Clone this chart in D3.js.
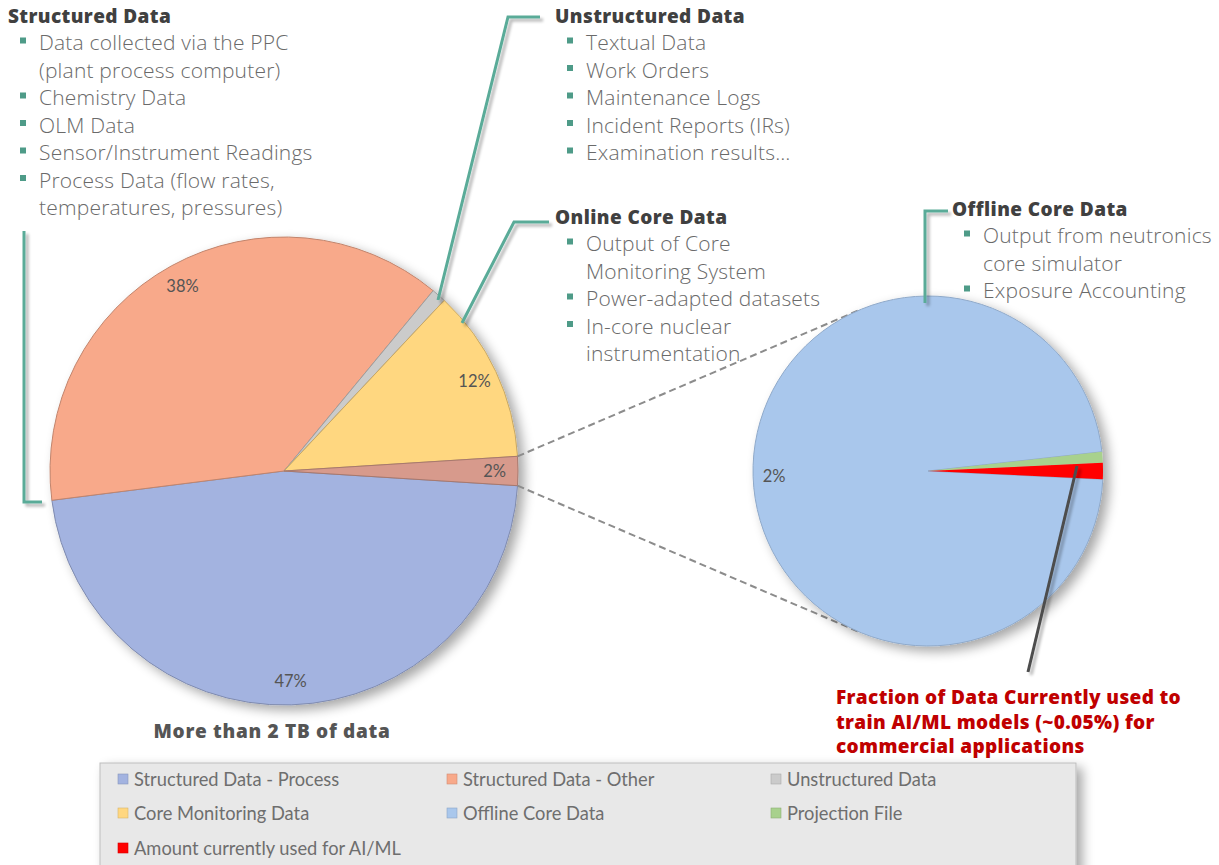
<!DOCTYPE html>
<html><head><meta charset="utf-8">
<script src="https://cdn.jsdelivr.net/npm/d3@7"></script>
<style>body{margin:0;background:#fff} svg{display:block}</style>
</head><body>
<svg id="chart" width="1219" height="865"></svg>
<script>
// ---- data ----
const mainCategories = ["Structured Data - Process", "Structured Data - Other", "Unstructured Data", "Core Monitoring Data"];
const mainValues = [47, 38, 1, 12];
const secondCategories = ["Offline Core Data", "Projection File", "Amount currently used for AI/ML"];
const secondValues = [1.95, 0.02, 0.03];
const mainColors = ["#a3b3e0", "#f8a98a", "#cbcbcb", "#ffd780"];
const otherColor = "#d79a8c";
const secondColors = ["#a9c7ec", "#a8d18d", "#ff0000"];

const calloutStructured = ["Data collected via the PPC", "(plant process computer)", "Chemistry Data", "OLM Data", "Sensor/Instrument Readings", "Process Data (flow rates,", "temperatures, pressures)"];
const calloutStructuredBullets = [1, 0, 1, 1, 1, 1, 0];
const calloutUnstructured = ["Textual Data", "Work Orders", "Maintenance Logs", "Incident Reports (IRs)", "Examination results\u2026"];
const calloutUnstructuredBullets = [1, 1, 1, 1, 1];
const calloutOnline = ["Output of Core", "Monitoring System", "Power-adapted datasets", "In-core nuclear", "instrumentation"];
const calloutOnlineBullets = [1, 0, 1, 1, 0];
const calloutOffline = ["Output from neutronics", "core simulator", "Exposure Accounting"];
const calloutOfflineBullets = [1, 0, 1];
const fractionNote = ["Fraction of Data Currently used to", "train AI/ML models (~0.05%) for", "commercial applications"];
const totalNote = "More than 2 TB of data";

// ---- setup ----
const svg = d3.select("#chart");
const defs = svg.append("defs");
const sh = defs.append("filter").attr("id", "shadow").attr("x", "-20%").attr("y", "-20%").attr("width", "150%").attr("height", "150%");
sh.append("feGaussianBlur").attr("in", "SourceAlpha").attr("stdDeviation", 6).attr("result", "b");
sh.append("feOffset").attr("in", "b").attr("dx", 6).attr("dy", 5).attr("result", "o");
sh.append("feComponentTransfer").attr("in", "o").attr("result", "o2").append("feFuncA").attr("type", "linear").attr("slope", 0.35);
const m1 = sh.append("feMerge"); m1.append("feMergeNode").attr("in", "o2"); m1.append("feMergeNode").attr("in", "SourceGraphic");

const sh2 = defs.append("filter").attr("id", "lineShadow").attr("x", "-50%").attr("y", "-10%").attr("width", "200%").attr("height", "130%");
sh2.append("feGaussianBlur").attr("in", "SourceAlpha").attr("stdDeviation", 1.5).attr("result", "b");
sh2.append("feOffset").attr("in", "b").attr("dx", 3).attr("dy", 3).attr("result", "o");
sh2.append("feComponentTransfer").attr("in", "o").attr("result", "o2").append("feFuncA").attr("type", "linear").attr("slope", 0.3);
const m2 = sh2.append("feMerge"); m2.append("feMergeNode").attr("in", "o2"); m2.append("feMergeNode").attr("in", "SourceGraphic");

const total = d3.sum(mainValues) + d3.sum(secondValues);
const otherValue = d3.sum(secondValues);

// ---- main pie ----
const c1 = {x: 284, y: 471}, R1 = 234;
const mainData = mainValues.map((v, i) => ({name: mainCategories[i], value: v, color: mainColors[i]}))
  .concat([{name: "Other", value: otherValue, color: otherColor}]);
const start1 = Math.PI / 2 + (otherValue / total) * Math.PI;
const pie1 = d3.pie().sort(null).value(d => d.value).startAngle(start1).endAngle(start1 + 2 * Math.PI);
const arcs1 = pie1(mainData);
const arc1 = d3.arc().innerRadius(0).outerRadius(R1);
const labelArc1 = d3.arc().innerRadius(R1 * 0.9).outerRadius(R1 * 0.9);
const g1 = svg.append("g").attr("transform", `translate(${c1.x},${c1.y})`);
g1.append("g").attr("filter", "url(#shadow)").selectAll("path").data(arcs1).join("path")
  .attr("d", arc1).attr("fill", d => d.data.color)
  .attr("stroke", d => d3.color(d.data.color).darker(0.7)).attr("stroke-width", 1);
g1.selectAll("text.lbl").data(arcs1.filter(d => d.data.value >= 1.5)).join("text")
  .attr("class", "lbl")
  .attr("transform", d => { const [x, y] = labelArc1.centroid(d); return `translate(${x},${y})`; })
  .attr("text-anchor", "middle").attr("dominant-baseline", "central")
  .attr("font-family", "Lato, sans-serif").attr("font-size", 16.5).attr("fill", "#555")
  .text(d => Math.round(d.data.value / total * 100) + "%");

// ---- second pie ----
const c2 = {x: 928, y: 471}, R2 = 175;
const secondData = secondValues.map((v, i) => ({name: secondCategories[i], value: v, color: secondColors[i]}));
const lastVal = secondValues[secondValues.length - 1];
const start2 = Math.PI / 2 + (lastVal / otherValue) * Math.PI;
const pie2 = d3.pie().sort(null).value(d => d.value).startAngle(start2).endAngle(start2 + 2 * Math.PI);
const arcs2 = pie2(secondData);
const arc2 = d3.arc().innerRadius(0).outerRadius(R2);
const labelArc2 = d3.arc().innerRadius(R2 * 0.88).outerRadius(R2 * 0.88);

// connector lines (tangents from "other" slice edge points to the second pie)
const otherArc = arcs1[arcs1.length - 1];
const pt = (c, r, a) => [c.x + r * Math.sin(a), c.y - r * Math.cos(a)];
const pA = pt(c1, R1, otherArc.startAngle), pB = pt(c1, R1, otherArc.endAngle);
function tangent(p, upper) {
  const dx = p[0] - c2.x, dy = p[1] - c2.y, d = Math.hypot(dx, dy);
  const base = Math.atan2(dy, dx), off = Math.acos(R2 / d);
  const a = upper ? base + off : base - off;
  return [c2.x + R2 * Math.cos(a), c2.y + R2 * Math.sin(a)];
}
const topP = pA[1] < pB[1] ? pA : pB, botP = pA[1] < pB[1] ? pB : pA;
const conn = [[topP, tangent(topP, true)], [botP, tangent(botP, false)]];
svg.append("g").selectAll("line").data(conn).join("line")
  .attr("x1", d => d[0][0]).attr("y1", d => d[0][1]).attr("x2", d => d[1][0]).attr("y2", d => d[1][1])
  .attr("stroke", "#8c8c8c").attr("stroke-width", 2).attr("stroke-dasharray", "7,4");

const g2 = svg.append("g").attr("transform", `translate(${c2.x},${c2.y})`);
g2.append("g").attr("filter", "url(#shadow)").selectAll("path").data(arcs2).join("path")
  .attr("d", arc2).attr("fill", d => d.data.color)
  .attr("stroke", (d, i) => i === 0 ? "#8fa9c9" : "none").attr("stroke-width", 1);
g2.selectAll("text.lbl").data(arcs2.filter(d => d.data.value >= 1.5)).join("text")
  .attr("class", "lbl")
  .attr("transform", d => { const [x, y] = labelArc2.centroid(d); return `translate(${x},${y})`; })
  .attr("text-anchor", "middle").attr("dominant-baseline", "central")
  .attr("font-family", "Lato, sans-serif").attr("font-size", 16.5).attr("fill", "#555")
  .text(d => Math.round(d.data.value / total * 100) + "%");

// ---- callout lines ----
const teal = "#5aab98";
const calloutLines = [
  [[24, 231], [24, 502], [42, 502]],
  [[438, 300], [508, 17], [540, 17]],
  [[462, 323], [514, 222], [549, 222]],
  [[925, 303], [925, 211], [948, 211]]
];
svg.append("g").attr("filter", "url(#lineShadow)").selectAll("path").data(calloutLines).join("path")
  .attr("d", d3.line()).attr("fill", "none").attr("stroke", teal).attr("stroke-width", 3);
svg.append("path").attr("d", d3.line()([[1077, 466], [1028, 672]]))
  .attr("stroke", "#4d4d4d").attr("stroke-width", 3).attr("filter", "url(#lineShadow)");

// ---- callout texts ----
const headFont = "'Open Sans', sans-serif";
function block(x, y, title, lines, bullets) {
  const g = svg.append("g");
  g.append("text").attr("x", x).attr("y", y).attr("dominant-baseline", "central")
    .attr("font-family", headFont).attr("font-weight", 800).attr("font-size", 19)
    .attr("letter-spacing", 0.4)
    .attr("fill", "#404040").text(title);
  lines.forEach((t, i) => {
    const ly = y + 26 + i * 27.5;
    if (bullets[i]) g.append("rect").attr("x", x + 12).attr("y", ly - 4.5).attr("width", 6).attr("height", 6).attr("fill", "#4e9b88");
    g.append("text").attr("x", x + 31).attr("y", ly).attr("dominant-baseline", "central")
      .attr("font-family", headFont).attr("font-weight", 300).attr("font-size", 21)
      .attr("letter-spacing", 0.2)
      .attr("fill", "#6a6a6a").text(t);
  });
}
block(8, 16, "Structured Data", calloutStructured, calloutStructuredBullets);
block(555, 16, "Unstructured Data", calloutUnstructured, calloutUnstructuredBullets);
block(555, 217, "Online Core Data", calloutOnline, calloutOnlineBullets);
block(952, 209, "Offline Core Data", calloutOffline, calloutOfflineBullets);

svg.append("text").attr("x", 272).attr("y", 731).attr("text-anchor", "middle").attr("dominant-baseline", "central")
  .attr("font-family", headFont).attr("font-weight", 800).attr("font-size", 19).attr("letter-spacing", 0.7)
  .attr("fill", "#555").text(totalNote);

svg.append("g").selectAll("text").data(fractionNote).join("text")
  .attr("x", 836).attr("y", (d, i) => 697 + i * 24.5).attr("dominant-baseline", "central")
  .attr("font-family", headFont).attr("font-weight", 800).attr("font-size", 19).attr("letter-spacing", 0.35)
  .attr("fill", "#c00000").text(d => d);

// ---- legend ----
const legendItems = mainCategories.map((n, i) => ({name: n, color: mainColors[i]}))
  .concat(secondCategories.map((n, i) => ({name: n, color: secondColors[i]})));
const lg = svg.append("g");
lg.append("rect").attr("x", 100).attr("y", 763).attr("width", 976).attr("height", 110)
  .attr("fill", "#e8e8e8").attr("stroke", "#bdbdbd").attr("stroke-width", 1).attr("filter", "url(#shadow)");
const colX = [118, 447, 771], rowY = [779, 813, 848];
const items = lg.selectAll("g.item").data(legendItems).join("g").attr("class", "item")
  .attr("transform", (d, i) => `translate(${colX[i % 3]},${rowY[Math.floor(i / 3)]})`);
items.append("rect").attr("x", 0).attr("y", -5).attr("width", 10).attr("height", 10)
  .attr("fill", d => d.color).attr("stroke", d => d3.color(d.color).darker(0.5)).attr("stroke-width", 0.6);
items.append("text").attr("x", 16).attr("y", 0).attr("dominant-baseline", "central")
  .attr("font-family", "Lato, sans-serif").attr("font-size", 18.3).attr("fill", "#6e6e6e")
  .text(d => d.name);
</script>
</body></html>
